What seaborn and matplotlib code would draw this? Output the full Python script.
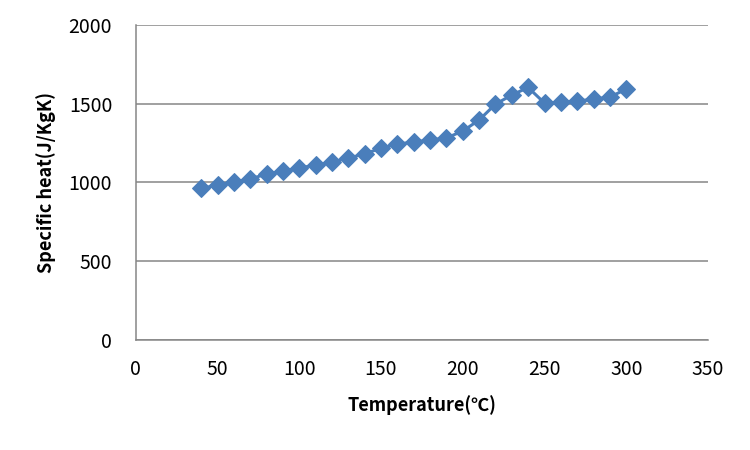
import pandas as pd
import matplotlib
matplotlib.use("Agg")
import matplotlib.pyplot as plt
import seaborn as sns

# --- Data ---
temperature = [40, 50, 60, 70, 80, 90, 100, 110, 120, 130, 140, 150, 160,
               170, 180, 190, 200, 210, 220, 230, 240, 250, 260, 270, 280, 290, 300]
specific_heat = [962, 984, 1003, 1022, 1054, 1073, 1092, 1111, 1130, 1156, 1181, 1219, 1244,
                 1257, 1270, 1283, 1327, 1397, 1498, 1556, 1604, 1505, 1511, 1517, 1530, 1543, 1594]
x_ticks = [0, 50, 100, 150, 200, 250, 300, 350]
y_ticks = [0, 500, 1000, 1500, 2000]

df = pd.DataFrame({"temperature": temperature, "specific_heat": specific_heat})

sns.set_style("white")
plt.rcParams['font.family'] = ['Noto Sans CJK KR', 'DejaVu Sans']
plt.rcParams['text.color'] = 'black'
plt.rcParams['axes.labelcolor'] = 'black'
plt.rcParams['xtick.color'] = 'black'
plt.rcParams['ytick.color'] = 'black'

fig = plt.figure(figsize=(7.5, 4.5), dpi=100)
ax = fig.add_axes([0.181, 0.245, 0.763, 0.699])

sns.lineplot(data=df, x="temperature", y="specific_heat", ax=ax,
             color="#4a7ebb", linewidth=2.2, marker="D", markersize=9,
             markeredgecolor="#4a7ebb", zorder=3)

ax.set_xlim(0, 350)
ax.set_ylim(0, 2000)
ax.set_xticks(x_ticks)
ax.set_yticks(y_ticks)
ax.tick_params(axis='both', length=0, labelsize=14)
ax.tick_params(axis='y', pad=17)
ax.tick_params(axis='x', pad=14)

ax.grid(axis='y', color="#868686", linewidth=1.1)
ax.grid(axis='x', visible=False)
for side in ["top", "right"]:
    ax.spines[side].set_visible(False)
for side in ["left", "bottom"]:
    ax.spines[side].set_color("#868686")
    ax.spines[side].set_linewidth(1.1)

ax.set_xlabel("Temperature(℃)", fontsize=13, fontweight="bold", labelpad=11)
ax.set_ylabel("Specific heat(J/KgK)", fontsize=13, fontweight="bold", labelpad=9)

fig.savefig("out.png", dpi=100)
